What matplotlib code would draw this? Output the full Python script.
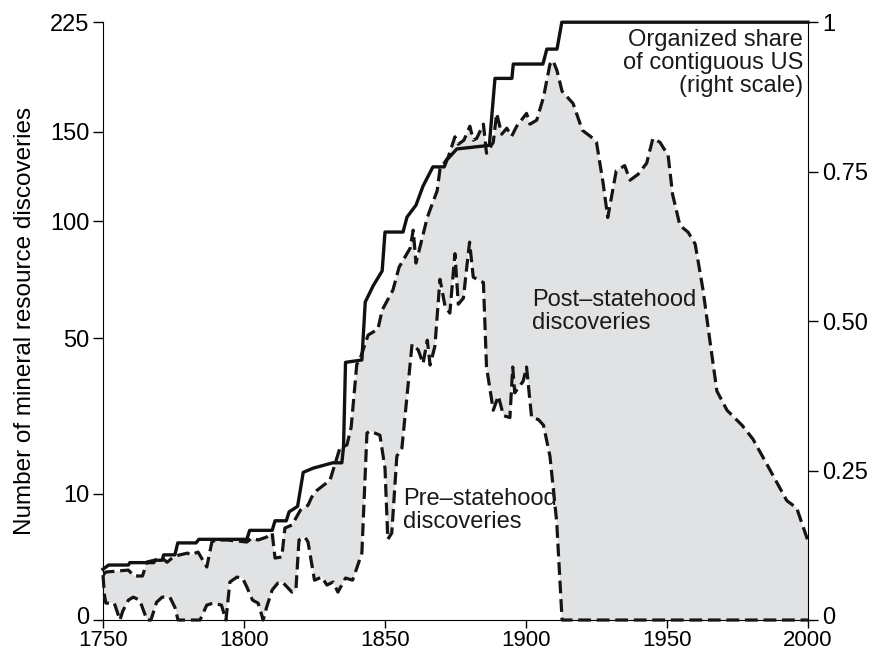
import numpy as np
import matplotlib
matplotlib.use("Agg")
import matplotlib.pyplot as plt
from matplotlib.transforms import ScaledTranslation

plt.rcParams['font.family'] = ['Liberation Sans', 'DejaVu Sans']

# organized share of contiguous US (right scale)
share_years = [1750, 1752, 1759, 1759.5, 1768, 1768.5, 1771, 1771.5, 1775.5, 1776.5,
               1783, 1784, 1801, 1802, 1810, 1811, 1815, 1816, 1819, 1821,
               1824.5, 1831.5, 1834.7, 1835.3, 1836, 1841.8, 1843, 1845.8, 1849, 1850,
               1856.4, 1857.8, 1861, 1863.5, 1867, 1871, 1872, 1875.5, 1887, 1889,
               1895, 1895.5, 1906, 1907.4, 1911, 1912.7, 2000]
share_vals = [0.085, 0.092, 0.092, 0.096, 0.096, 0.100, 0.100, 0.109, 0.109, 0.129,
              0.129, 0.135, 0.135, 0.150, 0.150, 0.166, 0.166, 0.181, 0.19, 0.247,
              0.254, 0.263, 0.263, 0.29, 0.431, 0.435, 0.532, 0.559, 0.584, 0.649,
              0.649, 0.674, 0.694, 0.726, 0.758, 0.758, 0.77, 0.788, 0.794, 0.906,
              0.906, 0.930, 0.930, 0.955, 0.955, 1.0, 1.0]

# all discoveries (upper dashed line)
total_years = [1750, 1751, 1759, 1761, 1764, 1765.6, 1768.4, 1771, 1772.7, 1774.5,
               1777, 1780, 1781, 1783.7, 1786.8, 1788.6, 1790, 1794, 1801, 1802.8,
               1805, 1808, 1810, 1811, 1813.4, 1814.5, 1817, 1820, 1822.7, 1824,
               1825.9, 1830.5, 1834, 1836.5, 1838, 1840, 1841, 1844, 1847.5, 1849,
               1852.8, 1855, 1858.9, 1860, 1861, 1863, 1865, 1866, 1868.5, 1869.5,
               1872.4, 1874.8, 1876, 1878, 1880.1, 1881.3, 1882.5, 1884.9, 1886, 1888.4,
               1889.6, 1891.4, 1893.2, 1894.9, 1896.7, 1900.2, 1901.4, 1903.8, 1906.2, 1908.5,
               1909.6, 1911, 1912.8, 1916.7, 1920, 1923.8, 1925, 1927.3, 1929, 1932,
               1935, 1936.9, 1939.7, 1942.8, 1945, 1947.5, 1950.4, 1952, 1954.6, 1957.5,
               1960, 1962.8, 1965.2, 1967.7, 1971.3, 1976.6, 1980.5, 1985.4, 1992.5, 1996,
               2000]
total_vals = [1.27, 1.45, 1.57, 1.22, 1.22, 2.12, 2.26, 2.42, 2.1, 2.42,
              2.66, 2.82, 2.66, 2.91, 1.77, 3.83, 4.03, 4.03, 3.83, 4.23,
              4.03, 4.33, 4.76, 2.42, 2.5, 5.33, 5.68, 7.6, 8.3, 9.5,
              10.6, 12.3, 18.6, 19.3, 23.4, 41.2, 42.5, 51.1, 53.3, 60.5,
              68.5, 78.4, 87, 95.7, 80.2, 90.8, 102, 106, 116, 128,
              134.8, 147, 142.5, 145, 153.5, 145, 146, 154.8, 137.2, 143.7,
              161.6, 148.6, 152.3, 147.3, 153.5, 161.6, 154.8, 157.3, 172, 194.5,
              197, 190, 176, 168, 151, 146, 143.7, 120.7, 102, 127,
              130, 121.8, 125, 131.4, 146, 143.7, 136, 114, 98, 94.7,
              89, 68.5, 49.3, 33, 27.7, 23.9, 20.6, 15.3, 8.97, 7.9,
              3.93]

# pre-statehood discoveries (lower dashed line)
pre_years = [1750, 1750.5, 1751, 1754, 1756, 1757, 1759, 1760.7, 1763, 1765.6,
             1767, 1769, 1771, 1773.7, 1775.5, 1776.6, 1784.4, 1786.8, 1789, 1792,
             1793.6, 1795, 1797.5, 1799.5, 1801, 1803, 1805, 1806.8, 1808, 1810,
             1812, 1813.6, 1817, 1818.4, 1819.5, 1821.6, 1822.7, 1825, 1827.6, 1829.4,
             1831.6, 1833.3, 1836, 1838.5, 1840, 1841.8, 1843.6, 1844.7, 1848.2, 1850,
             1851, 1852.4, 1854.2, 1856, 1859.6, 1861.8, 1863.5, 1865, 1866, 1867.7,
             1869.5, 1871.3, 1873, 1874.8, 1876, 1877.8, 1879, 1880, 1881.3, 1884.9,
             1886, 1888.4, 1890.2, 1892, 1894.3, 1895.3, 1896, 1899, 1900.2, 1902,
             1904.4, 1906.2, 1908.5, 1910.9, 1912.8, 2000]
pre_vals = [1.27, 0.39, 0.18, 0.18, 0, 0.05, 0.25, 0.33, 0.25, 0,
            0, 0.2, 0.33, 0.33, 0.1, 0, 0, 0.14, 0.18, 0.14,
            0, 0.91, 1.16, 1.1, 0.69, 0.25, 0.18, 0, 0.1, 0.57,
            0.86, 0.91, 0.49, 0.57, 4.03, 4.33, 3.83, 1.0, 1.16, 0.77,
            0.91, 0.49, 1.11, 1.0, 1.7, 2.82, 22, 22.5, 21.5, 14.5,
            4.1, 4.76, 16.9, 18.6, 47.9, 45.9, 41.4, 49.3, 40.9, 47.2,
            73.1, 62, 59.3, 84.5, 62.8, 65.2, 78.4, 89.9, 74, 71.7,
            40.3, 27.7, 31.6, 26.3, 25.8, 40.3, 32.5, 35.9, 40.3, 25.8,
            25.3, 23.9, 16.9, 6.04, 0, 0]

left_ticks = [0, 10, 50, 100, 150, 225]
right_ticks = [0, 0.25, 0.5, 0.75, 1]
right_labels = ['0', '0.25', '0.50', '0.75', '1']
x_ticks = [1750, 1800, 1850, 1900, 1950, 2000]

fig = plt.figure(figsize=(8.73, 6.53), dpi=100)
ax = fig.add_axes([0.118, 0.0505, 0.8075, 0.9155])

ax.set_yscale('function', functions=(lambda v: np.sqrt(np.clip(v, 0, None)), lambda v: np.square(v)))

# shaded area = post-statehood discoveries
ax.fill(np.r_[total_years, pre_years[::-1]], np.r_[total_vals, pre_vals[::-1]],
        color='#e1e2e4', lw=0, zorder=1)
dash = (0, (4.0, 1.8))
ax.plot(total_years, total_vals, color='#151515', lw=2.3, ls=dash, zorder=3)
ax.plot(pre_years, pre_vals, color='#151515', lw=2.3, ls=dash, zorder=3, clip_on=False)

ax.set_xlim(1750, 2000)
ax.set_ylim(0, 225)
ax.set_xticks(x_ticks)
ax.set_yticks(left_ticks)
ax.set_yticklabels([str(t) for t in left_ticks])
ax.set_ylabel('Number of mineral resource discoveries', fontsize=17.5, labelpad=10)
ax.tick_params(axis='y', labelsize=17, length=7, width=1, pad=3)
ax.tick_params(axis='x', labelsize=16, length=6, width=1, pad=1.5)
ax.spines['top'].set_visible(False)
ax.spines['right'].set_visible(False)

ax2 = ax.twinx()
ax2.plot(share_years, share_vals, color='#111111', lw=2.4, clip_on=False, zorder=4)
ax2.set_ylim(0, 1)
ax2.set_yticks(right_ticks)
ax2.set_yticklabels(right_labels)
ax2.tick_params(axis='y', labelsize=17, length=7, width=1, pad=3)
ax2.spines['top'].set_visible(False)
ax2.spines['left'].set_visible(False)
ax2.spines['bottom'].set_visible(False)

# lift the two "0" labels a little so they clear the year labels
lift = ScaledTranslation(0, 3 / 72, fig.dpi_scale_trans)
for lab in [ax.get_yticklabels()[0], ax2.get_yticklabels()[0]]:
    lab.set_transform(lab.get_transform() + lift)

ax.text(0.6085, 0.516, 'Post\u2013statehood\ndiscoveries', transform=ax.transAxes,
        fontsize=17, ha='left', va='center', linespacing=1.05, color='#1a1a1a')
ax.text(0.4255, 0.183, 'Pre\u2013statehood\ndiscoveries', transform=ax.transAxes,
        fontsize=17, ha='left', va='center', linespacing=1.05, color='#1a1a1a', zorder=5)
ax2.text(0.993, 0.988, 'Organized share\nof contiguous US\n(right scale)', transform=ax2.transAxes,
         fontsize=17, ha='right', va='top', linespacing=1.05, color='#1a1a1a')

fig.savefig('out.png', dpi=100)
